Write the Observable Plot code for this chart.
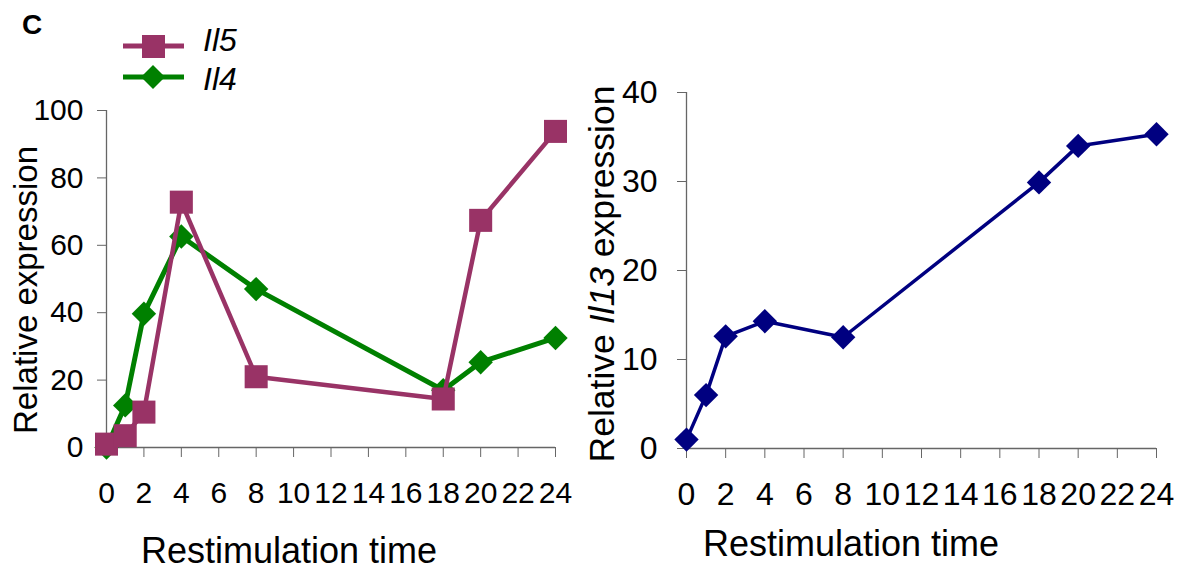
<!DOCTYPE html>
<html><head><meta charset="utf-8">
<script src="https://cdn.jsdelivr.net/npm/d3@7"></script>
<script src="https://cdn.jsdelivr.net/npm/@observablehq/plot@0.6"></script>
<style>
html,body{margin:0;padding:0;background:#fff;}
#wrap{position:relative;width:1188px;height:574px;overflow:hidden;font-family:"Liberation Sans",Arial,sans-serif;}
#wrap > svg{position:absolute;}
</style></head><body><div id="wrap"></div>
<script>
// ---- data ----
const times = [0, 1, 2, 4, 8, 18, 20, 24];
const il5  = [1, 3.5, 10.5, 72.8, 21, 14.4, 67.4, 93.8];
const il4  = [0, 12.5, 39.7, 62.6, 47, 17, 25.3, 32.5];
const il13 = [1, 6, 12.6, 14.3, 12.5, 29.9, 34, 35.3];
const xTicks = [0, 2, 4, 6, 8, 10, 12, 14, 16, 18, 20, 22, 24];
const yTicksLeft = [0, 20, 40, 60, 80, 100];
const yTicksRight = [0, 10, 20, 30, 40];
const xTitle = "Restimulation time";
const yTitleLeft = "Relative expression";
const seriesNames = ["Il5", "Il4"];

const C5 = "#993366", C4 = "#008000", C13 = "#000080", AX = "#666";
const FONT = "Liberation Sans, Arial, sans-serif";

const rows5 = times.map((t, i) => ({t, v: il5[i]}));
const rows4 = times.map((t, i) => ({t, v: il4[i]}));
const rows13 = times.map((t, i) => ({t, v: il13[i]}));

const wrap = document.getElementById("wrap");

const left = Plot.plot({
  width: 590, height: 574,
  marginLeft: 106, marginRight: 35, marginTop: 110, marginBottom: 127,
  x: {domain: [0, 24], axis: null},
  y: {domain: [0, 100], axis: null},
  style: {fontFamily: FONT, background: "transparent", overflow: "visible", color: "#000"},
  marks: [
    Plot.ruleX([0], {stroke: AX, strokeWidth: 1.3}),
    Plot.ruleY([0], {stroke: AX, strokeWidth: 1.3}),
    Plot.axisY({ticks: yTicksLeft, tickSize: 9, tickPadding: 14, fontSize: 30, label: null, stroke: AX, fill: "#000", tickFormat: d => String(d)}),
    Plot.axisX({ticks: xTicks, tickSize: 10, tickPadding: 24, fontSize: 30, label: null, stroke: AX, fill: "#000", tickFormat: d => String(d)}),
    Plot.line(rows4, {x: "t", y: "v", stroke: C4, strokeWidth: 5}),
    Plot.dot(rows4, {x: "t", y: "v", symbol: "diamond2", r: 11, fill: C4, stroke: "none"}),
    Plot.line(rows5, {x: "t", y: "v", stroke: C5, strokeWidth: 4.5}),
    Plot.dot(rows5, {x: "t", y: "v", symbol: "square", r: 13, fill: C5, stroke: "none"})
  ]
});
left.style.left = "0px"; left.style.top = "0px";
wrap.appendChild(left);

const right = Plot.plot({
  width: 598, height: 574,
  marginLeft: 96, marginRight: 32, marginTop: 92, marginBottom: 126,
  x: {domain: [0, 24], axis: null},
  y: {domain: [0, 40], axis: null},
  style: {fontFamily: FONT, background: "transparent", overflow: "visible", color: "#000"},
  marks: [
    Plot.ruleX([0], {stroke: AX, strokeWidth: 1.3}),
    Plot.ruleY([0], {stroke: AX, strokeWidth: 1.3}),
    Plot.axisY({ticks: yTicksRight, tickSize: 9, tickPadding: 20, fontSize: 32, label: null, stroke: AX, fill: "#000", tickFormat: d => String(d)}),
    Plot.axisX({ticks: xTicks, tickSize: 10, tickPadding: 24, fontSize: 32, label: null, stroke: AX, fill: "#000", tickFormat: d => String(d)}),
    Plot.line(rows13, {x: "t", y: "v", stroke: C13, strokeWidth: 3.5}),
    Plot.dot(rows13, {x: "t", y: "v", symbol: "diamond2", r: 11, fill: C13, stroke: "none"})
  ]
});
right.style.left = "590px"; right.style.top = "0px";
wrap.appendChild(right);

// ---- overlay: panel letter, legend, axis titles ----
const NS = "http://www.w3.org/2000/svg";
const ov = document.createElementNS(NS, "svg");
ov.setAttribute("width", 1188); ov.setAttribute("height", 574);
ov.style.left = "0px"; ov.style.top = "0px";
ov.setAttribute("font-family", FONT);
ov.innerHTML = `
  <text x="22" y="34" font-size="28" font-weight="bold">C</text>
  <line x1="123" x2="184" y1="46" y2="46" stroke="${C5}" stroke-width="5"/>
  <rect x="142" y="35" width="23" height="23" fill="${C5}"/>
  <text x="203" y="51" font-size="32" font-style="italic">${seriesNames[0]}</text>
  <line x1="123" x2="184" y1="77" y2="77" stroke="${C4}" stroke-width="5"/>
  <path d="M153,65 L165,77 L153,89 L141,77 Z" fill="${C4}"/>
  <text x="203" y="90" font-size="32" font-style="italic">${seriesNames[1]}</text>
  <text transform="translate(37,290) rotate(-90)" text-anchor="middle" font-size="33">${yTitleLeft}</text>
  <text transform="translate(614,274) rotate(-90)" text-anchor="middle" font-size="35.5">Relative <tspan font-style="italic">Il13</tspan> expression</text>
  <text x="289" y="563" text-anchor="middle" font-size="36">${xTitle}</text>
  <text x="851" y="556" text-anchor="middle" font-size="36">${xTitle}</text>
`;
wrap.appendChild(ov);
</script>
</body></html>
